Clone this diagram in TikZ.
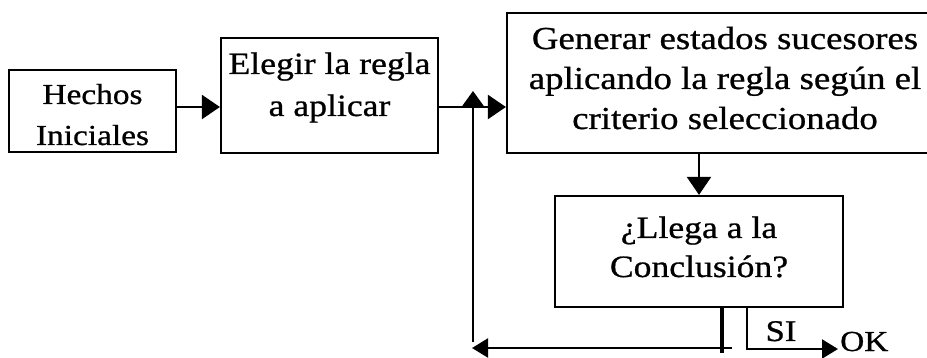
\documentclass[tikz,border=0pt]{standalone}
\usepackage{fontspec}
\setmainfont{Liberation Serif}[FakeStretch=1.15,FakeBold=0.8]
\usetikzlibrary{arrows.meta}
\begin{document}
\begin{tikzpicture}[x=1pt,y=-1pt,
  box/.style={draw, line width=2.2pt, inner sep=0pt},
  lbl/.style={anchor=base, inner sep=0pt},
  flow/.style={line width=2.2pt, -{Triangle[length=18pt,width=24pt]}},
  smallflow/.style={line width=2.2pt, -{Triangle[length=16pt,width=19pt]}},
  heavy/.style={line width=3.8pt}]
\clip (0,0) rectangle (927,358);

% boxes
\node[box, minimum width=167pt, minimum height=82pt]  (hechos)  at (92.5,111) {};
\node[box, minimum width=217pt, minimum height=115pt] (elegir)  at (329.5,95.5) {};
\node[box, minimum width=436pt, minimum height=140pt] (generar) at (725,83) {};
\node[box, minimum width=288pt, minimum height=111pt] (llega)   at (699,251.5) {};

% box texts
\begin{scope}[font=\fontsize{29}{35}\selectfont]
\node[lbl] (hechosA) at (92.5,104) {Hechos};
\node[lbl] (hechosB) at (92.5,145) {Iniciales};
\end{scope}
\begin{scope}[font=\fontsize{31}{37}\selectfont]
\node[lbl] (elegirA) at (329.5,74) {Elegir la regla};
\node[lbl] (elegirB) at (329.5,116) {a aplicar};
\node[lbl] (llegaA) at (699,238) {¿Llega a la};
\node[lbl] (llegaB) at (699,277) {Conclusión?};
\end{scope}
\begin{scope}[font=\fontsize{32}{38}\selectfont]
\node[lbl] (genA) at (725,49) {Generar estados sucesores};
\node[lbl] (genB) at (725,89) {aplicando la regla según el};
\node[lbl] (genC) at (725,129) {criterio seleccionado};
\end{scope}

% reference points of the connectors
\coordinate (row)      at (0,107);
\coordinate (loopTop)  at (473,91);
\coordinate (loopBot)  at (473,342);
\coordinate (noX)      at (722,0);
\coordinate (noEnd)    at (732,348);
\coordinate (back)     at (472,348);
\coordinate (siX)      at (747,0);
\coordinate (okTip)    at (838,349);

% main flow
\draw[flow] (hechos.east |- row) -- (elegir.west |- row);
\draw[flow] (elegir.east |- row) -- (generar.west |- row);
\draw[flow] (llega.north |- generar.south) -- (llega.north);

% return loop
\draw[heavy] (llega.south -| noX) -- ++(0,45);
\draw[smallflow] (noEnd) -- (back);
\draw[-{Triangle[length=15pt,width=21pt]}, line width=2.2pt] (loopBot) -- (loopTop);

% exit
\draw[smallflow] (llega.south -| siX) |- (okTip);
\node[lbl, font=\fontsize{30}{36}\selectfont] (si) at (781,341) {SI};
\node[lbl, anchor=base west, font=\fontsize{29}{35}\selectfont] (ok) at (840,351) {OK};
\end{tikzpicture}
\end{document}
